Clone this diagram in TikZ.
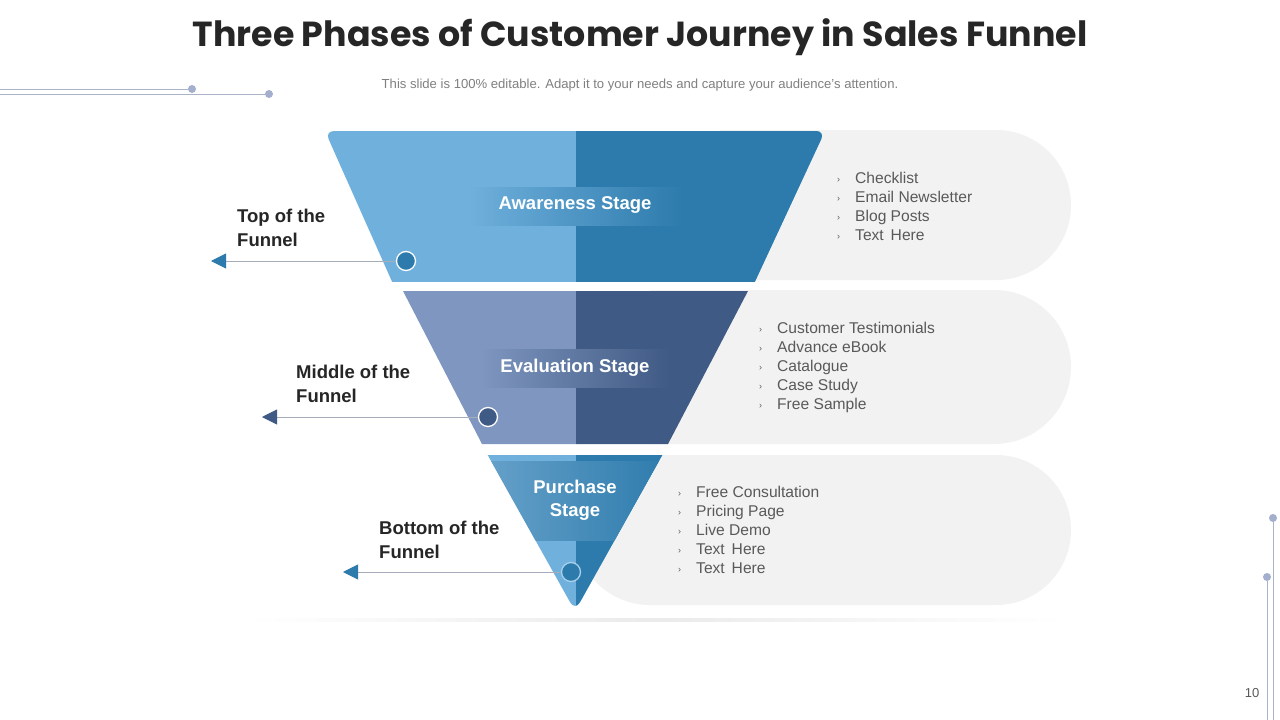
\documentclass[tikz,border=0pt]{standalone}
\usepackage{fontspec}
\setmainfont{Liberation Sans}
\newfontfamily\titlefont{Poppins}
\usetikzlibrary{arrows.meta}
\definecolor{tlight}{HTML}{70B0DC}
\definecolor{tdark}{HTML}{2D7BAC}
\definecolor{mlight}{HTML}{7E96C0}
\definecolor{mdark}{HTML}{3F5A84}
\definecolor{pill}{HTML}{F2F2F2}
\definecolor{deco}{HTML}{AAB3C8}
\definecolor{decodot}{HTML}{A3AFCD}
\definecolor{txt}{HTML}{595959}
\definecolor{lbl}{HTML}{262626}
\definecolor{conn}{HTML}{A5ADBB}
\tikzset{
  stagetext/.style={text=white, font=\fontsize{18.5}{23}\selectfont\bfseries, align=center, inner sep=0},
  sidelabel/.style={text=lbl, font=\fontsize{18.5}{24}\selectfont\bfseries, align=left, anchor=west, inner sep=0},
  bullets/.style={text=txt, font=\fontsize{15.6}{19}\selectfont, align=left, anchor=west, inner sep=0},
  marker/.style={circle, draw=white, line width=1.3pt, minimum size=19pt, inner sep=0},
  decodotst/.style={circle, fill=decodot, minimum size=8pt, inner sep=0},
  decoline/.style={draw=deco, line width=0.9pt},
  leader/.style={draw=conn, line width=0.9pt},
}
\newcommand{\bul}{\makebox[18pt][l]{\fontsize{9}{9}\selectfont\raisebox{1pt}{›}}}
\begin{document}
\begin{tikzpicture}[x=1pt,y=-1pt]
\useasboundingbox (0,0) rectangle (1280,720);
\fill[white] (0,0) rectangle (1280,720);

% title
\node[font=\titlefont\fontsize{34.8}{40}\selectfont\bfseries, text=lbl] (title) at (640,37) {Three Phases of Customer Journey in Sales Funnel};
\node[font=\fontsize{13.1}{15}\selectfont, text=gray] (sub) at (640,85) {This slide is 100\% editable. Adapt it to your needs and capture your audience's attention.};

% decorations
\node[decodotst] (d1) at (192,89) {};
\node[decodotst] (d2) at (269,94) {};
\coordinate (d1s) at (0,89);
\coordinate (d2s) at (0,94);
\draw[decoline] (d1s) -- (d1);
\draw[decoline] (d2s) -- (d2);
\node[decodotst] (d3) at (1273,518) {};
\node[decodotst] (d4) at (1267,577) {};
\coordinate (d3e) at (1273,720);
\coordinate (d4e) at (1267,720);
\draw[decoline] (d3) -- (d3e);
\draw[decoline] (d4) -- (d4e);
\node[font=\fontsize{13}{15}\selectfont, text=txt] (pg) at (1252,693) {10};

% shadow
\shade[left color=white, right color=white, middle color=black!8] (245,618.5) rectangle (1065,621.5);

% pills
\fill[pill] (720,130) -- (996,130) arc[start angle=-90, end angle=90, radius=75] -- (720,280) -- cycle;
\fill[pill] (650,290) -- (994,290) arc[start angle=-90, end angle=90, radius=77] -- (650,444) -- cycle;
\fill[pill] (650,455) -- (996,455) arc[start angle=-90, end angle=90, radius=75] -- (650,605) arc[start angle=90, end angle=270, radius=75] -- cycle;

% top funnel piece
\begin{scope}
\clip (0,131) rectangle (1280,281);
\fill[tlight, rounded corners=9] (325,131) -- (825,131) -- (746.4,300) -- (400.2,300) -- cycle;
\clip (576,0) rectangle (1280,720);
\fill[tdark, rounded corners=9] (325,131) -- (825,131) -- (746.4,300) -- (400.2,300) -- cycle;
\end{scope}
\shade[left color=tlight, right color=tdark] (467,187) rectangle (683,225);
\node[stagetext] (s1) at (575,205) {Awareness Stage};

% middle funnel piece
\fill[mlight] (403,291) -- (576,291) -- (576,444) -- (482,444) -- cycle;
\fill[mdark] (576,291) -- (748,291) -- (668,444) -- (576,444) -- cycle;
\shade[left color=mlight, right color=mdark] (480,349) rectangle (670,387);
\node[stagetext] (s2) at (575,368) {Evaluation Stage};

% bottom funnel piece
\begin{scope}
\clip (0,455) rectangle (1280,720);
\fill[tlight, rounded corners=10] (479.3,440) -- (670.7,440) -- (575,611) -- cycle;
\begin{scope}
\clip (576,0) rectangle (1280,720);
\fill[tdark, rounded corners=10] (479.3,440) -- (670.7,440) -- (575,611) -- cycle;
\end{scope}
\clip (479.3,440) -- (670.7,440) -- (575,611) -- cycle;
\shade[left color=tlight!92!black, right color=tdark] (480,461) rectangle (670,540);
\end{scope}
\node[stagetext] (s3) at (575,500) {Purchase\\Stage};

% markers and leaders
\node[marker, fill=tdark] (c1) at (406,261) {};
\node[marker, fill=mdark] (c2) at (488,417) {};
\node[marker, fill=tdark, draw=tlight!60!white] (c3) at (571,572) {};
\coordinate (a1) at (211,261);
\coordinate (a2) at (262,417);
\coordinate (a3) at (343,572);
\draw[leader, -{Triangle[length=15pt, width=15pt, color=tdark]}] (c1) -- (a1);
\draw[leader, -{Triangle[length=15pt, width=15pt, color=mdark]}] (c2) -- (a2);
\draw[leader, -{Triangle[length=15pt, width=15pt, color=tdark]}] (c3) -- (a3);

% side labels
\node[sidelabel] (l1) at (237,228) {Top of the\\Funnel};
\node[sidelabel] (l2) at (296,384) {Middle of the\\Funnel};
\node[sidelabel] (l3) at (379,540) {Bottom of the\\Funnel};

% bullet lists
\node[bullets] (b1) at (837,206) {\bul Checklist\\\bul Email Newsletter\\\bul Blog Posts\\\bul Text\,\ Here};
\node[bullets] (b2) at (759,367) {\bul Customer Testimonials\\\bul Advance eBook\\\bul Catalogue\\\bul Case Study\\\bul Free Sample};
\node[bullets] (b3) at (678,530) {\bul Free Consultation\\\bul Pricing Page\\\bul Live Demo\\\bul Text\,\ Here\\\bul Text\,\ Here};
\end{tikzpicture}
\end{document}
